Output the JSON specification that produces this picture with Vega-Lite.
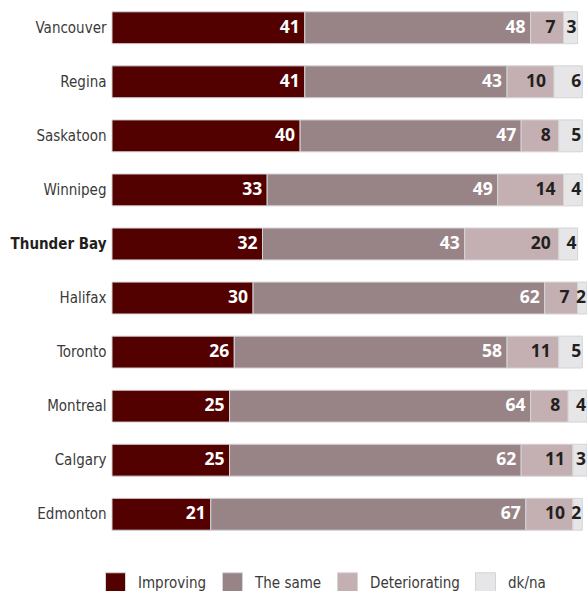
{
  "$schema": "https://vega.github.io/schema/vega-lite/v6.json",
  "width": 475,
  "height": 540,
  "autosize": {"type": "none"},
  "padding": {"left": 112, "top": 1, "right": 0, "bottom": 50},
  "background": "white",
  "config": {"view": {"stroke": null}},
  "data": {
    "values": [
      {"city": "Vancouver", "cat": "Improving", "o": 1, "v": 41},
      {"city": "Vancouver", "cat": "The same", "o": 2, "v": 48},
      {"city": "Vancouver", "cat": "Deteriorating", "o": 3, "v": 7},
      {"city": "Vancouver", "cat": "dk/na", "o": 4, "v": 3},
      {"city": "Regina", "cat": "Improving", "o": 1, "v": 41},
      {"city": "Regina", "cat": "The same", "o": 2, "v": 43},
      {"city": "Regina", "cat": "Deteriorating", "o": 3, "v": 10},
      {"city": "Regina", "cat": "dk/na", "o": 4, "v": 6},
      {"city": "Saskatoon", "cat": "Improving", "o": 1, "v": 40},
      {"city": "Saskatoon", "cat": "The same", "o": 2, "v": 47},
      {"city": "Saskatoon", "cat": "Deteriorating", "o": 3, "v": 8},
      {"city": "Saskatoon", "cat": "dk/na", "o": 4, "v": 5},
      {"city": "Winnipeg", "cat": "Improving", "o": 1, "v": 33},
      {"city": "Winnipeg", "cat": "The same", "o": 2, "v": 49},
      {"city": "Winnipeg", "cat": "Deteriorating", "o": 3, "v": 14},
      {"city": "Winnipeg", "cat": "dk/na", "o": 4, "v": 4},
      {"city": "Thunder Bay", "cat": "Improving", "o": 1, "v": 32},
      {"city": "Thunder Bay", "cat": "The same", "o": 2, "v": 43},
      {"city": "Thunder Bay", "cat": "Deteriorating", "o": 3, "v": 20},
      {"city": "Thunder Bay", "cat": "dk/na", "o": 4, "v": 4},
      {"city": "Halifax", "cat": "Improving", "o": 1, "v": 30},
      {"city": "Halifax", "cat": "The same", "o": 2, "v": 62},
      {"city": "Halifax", "cat": "Deteriorating", "o": 3, "v": 7},
      {"city": "Halifax", "cat": "dk/na", "o": 4, "v": 2},
      {"city": "Toronto", "cat": "Improving", "o": 1, "v": 26},
      {"city": "Toronto", "cat": "The same", "o": 2, "v": 58},
      {"city": "Toronto", "cat": "Deteriorating", "o": 3, "v": 11},
      {"city": "Toronto", "cat": "dk/na", "o": 4, "v": 5},
      {"city": "Montreal", "cat": "Improving", "o": 1, "v": 25},
      {"city": "Montreal", "cat": "The same", "o": 2, "v": 64},
      {"city": "Montreal", "cat": "Deteriorating", "o": 3, "v": 8},
      {"city": "Montreal", "cat": "dk/na", "o": 4, "v": 4},
      {"city": "Calgary", "cat": "Improving", "o": 1, "v": 25},
      {"city": "Calgary", "cat": "The same", "o": 2, "v": 62},
      {"city": "Calgary", "cat": "Deteriorating", "o": 3, "v": 11},
      {"city": "Calgary", "cat": "dk/na", "o": 4, "v": 3},
      {"city": "Edmonton", "cat": "Improving", "o": 1, "v": 21},
      {"city": "Edmonton", "cat": "The same", "o": 2, "v": 67},
      {"city": "Edmonton", "cat": "Deteriorating", "o": 3, "v": 10},
      {"city": "Edmonton", "cat": "dk/na", "o": 4, "v": 2}
    ]
  },
  "transform": [
    {"stack": "v", "groupby": ["city"], "sort": [{"field": "o"}], "as": ["x0", "x1"]}
  ],
  "encoding": {
    "y": {
      "field": "city",
      "type": "nominal",
      "sort": ["Vancouver", "Regina", "Saskatoon", "Winnipeg", "Thunder Bay", "Halifax", "Toronto", "Montreal", "Calgary", "Edmonton"],
      "scale": {"paddingInner": 0.41, "paddingOuter": 0.2},
      "axis": {
        "title": null,
        "domain": false,
        "ticks": false,
        "labelPadding": 6,
        "labelFont": "DejaVu Sans Condensed",
        "labelFontSize": 15,
        "labelColor": {"condition": {"test": "datum.value == 'Thunder Bay'", "value": "#231f20"}, "value": "#3a3a3a"},
        "labelFontWeight": {"condition": {"test": "datum.value == 'Thunder Bay'", "value": "bold"}, "value": "normal"},
        "labelLimit": 200
      }
    }
  },
  "layer": [
    {
      "mark": {"type": "bar", "stroke": "#d4d4d6", "strokeWidth": 1},
      "encoding": {
        "x": {"field": "x0", "type": "quantitative", "scale": {"domain": [0, 101], "nice": false}, "axis": null},
        "x2": {"field": "x1"},
        "color": {
          "field": "cat",
          "type": "nominal",
          "sort": ["Improving", "The same", "Deteriorating", "dk/na"],
          "scale": {"domain": ["Improving", "The same", "Deteriorating", "dk/na"], "range": ["#520000", "#988487", "#c4b0b3", "#e6e6e8"]},
          "legend": {
            "title": null,
            "orient": "none",
            "legendX": -7,
            "legendY": 571,
            "direction": "horizontal",
            "symbolType": "square",
            "symbolSize": 400,
            "symbolStrokeColor": "#d4d4d6",
            "symbolStrokeWidth": 1,
            "symbolOpacity": 1,
            "labelFont": "DejaVu Sans Condensed",
            "labelFontSize": 15,
            "labelColor": "#3a3a3a",
            "labelOffset": 12,
            "columnPadding": 13
          }
        }
      }
    },
    {
      "transform": [{"filter": "datum.o <= 2"}],
      "mark": {"type": "text", "align": "right", "dx": -5, "font": "Open Sans", "fontWeight": "bold", "fontSize": 17.5, "baseline": "middle", "color": "#ffffff"},
      "encoding": {
        "x": {"field": "x1", "type": "quantitative"},
        "text": {"field": "v", "type": "quantitative"}
      }
    },
    {
      "transform": [{"filter": "datum.o == 3"}],
      "mark": {"type": "text", "align": "right", "dx": -8, "font": "Open Sans", "fontWeight": "bold", "fontSize": 17.5, "baseline": "middle", "color": "#231f20"},
      "encoding": {
        "x": {"field": "x1", "type": "quantitative"},
        "text": {"field": "v", "type": "quantitative"}
      }
    },
    {
      "transform": [{"filter": "datum.o == 4"}],
      "mark": {"type": "text", "align": "right", "dx": -1, "font": "Open Sans", "fontWeight": "bold", "fontSize": 17.5, "baseline": "middle", "color": "#231f20"},
      "encoding": {
        "x": {"field": "x1", "type": "quantitative"},
        "text": {"field": "v", "type": "quantitative"}
      }
    }
  ]
}
